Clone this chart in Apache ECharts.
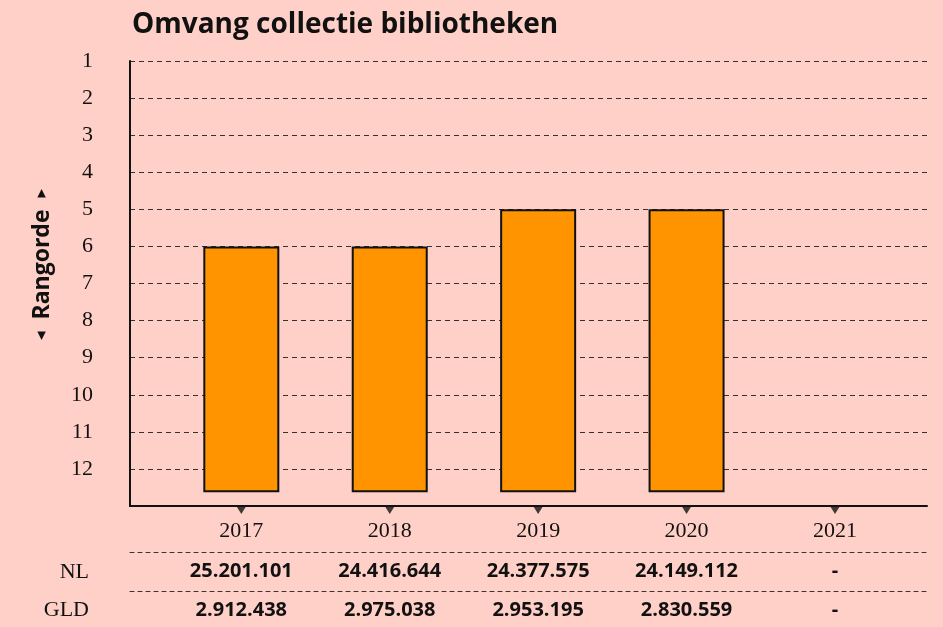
<!DOCTYPE html>
<html>
<head>
<meta charset="utf-8">
<script src="https://cdn.jsdelivr.net/npm/echarts@6/dist/echarts.min.js"></script>
<style>
  html, body { margin: 0; padding: 0; background: #FFD0C7; }
  #chart { width: 943px; height: 627px; }
</style>
</head>
<body>
<div id="chart"></div>
<script>
// Collectie-omvang: rangorde per jaar en aantallen NL / Gelderland
const years = [2017, 2018, 2019, 2020, 2021];
const ranks = [6, 6, 5, 5, null];
const nlValues = ['25.201.101', '24.416.644', '24.377.575', '24.149.112', '-'];
const gldValues = ['2.912.438', '2.975.038', '2.953.195', '2.830.559', '-'];
const rankLabels = [1, 2, 3, 4, 5, 6, 7, 8, 9, 10, 11, 12];

const RANK_MIN = 1, RANK_MAX = 13, BAR_FOOT = 12.6;
const BAR_WIDTH = 74;
const serif = '"Liberation Serif", serif';
const sans = '"Open Sans", sans-serif';

const chart = echarts.init(document.getElementById('chart'));

const tableAxis = (offset, values) => ({
  type: 'value',
  min: 2016.25, max: 2021.62,
  position: 'bottom',
  offset: offset,
  axisLine: { show: true, lineStyle: { color: '#333', width: 1, type: [4, 4] } },
  axisTick: { show: false },
  splitLine: { show: false },
  axisLabel: {
    customValues: years,
    margin: 9,
    formatter: v => values[years.indexOf(Math.round(v))],
    fontFamily: sans, fontWeight: 700, fontSize: 20, color: '#111'
  }
});

chart.setOption({
  backgroundColor: '#FFD0C7',
  animation: false,
  title: {
    text: 'Omvang collectie bibliotheken',
    left: 127, top: 6,
    textStyle: { fontFamily: sans, fontWeight: 700, fontSize: 28, color: '#111' }
  },
  grid: { left: 130, right: 16, top: 61, bottom: 121 },
  xAxis: [
    {
      type: 'value',
      min: 2016.25, max: 2021.62,
      position: 'bottom',
      axisLine: { show: true, onZero: false, lineStyle: { color: '#111', width: 2 } },
      axisTick: { show: false },
      splitLine: { show: false },
      axisLabel: {
        customValues: years,
        margin: 14,
        formatter: v => String(Math.round(v)),
        fontFamily: serif, fontSize: 22, color: '#111'
      }
    },
    tableAxis(46, nlValues),
    tableAxis(85, gldValues)
  ],
  yAxis: {
    type: 'value',
    inverse: true,
    min: RANK_MIN, max: RANK_MAX, interval: 1,
    axisLine: { show: true, lineStyle: { color: '#111', width: 2 } },
    axisTick: { show: false },
    axisLabel: {
      customValues: rankLabels,
      margin: 37,
      fontFamily: serif, fontSize: 22, color: '#111'
    },
    splitLine: { show: true, lineStyle: { color: '#333', width: 1, type: [5, 4] } }
  },
  series: [
    {
      type: 'custom',
      xAxisIndex: 0,
      data: years.map((y, i) => [y, ranks[i]]),
      renderItem: (params, api) => {
        const r = api.value(1);
        if (r == null || isNaN(r)) return null;
        const top = api.coord([api.value(0), r]);
        const foot = api.coord([api.value(0), BAR_FOOT]);
        return {
          type: 'rect',
          shape: { x: top[0] - BAR_WIDTH / 2, y: top[1] + 1, width: BAR_WIDTH, height: foot[1] - top[1] - 1 },
          style: { fill: '#FF9400', stroke: '#111', lineWidth: 2 }
        };
      }
    },
    {
      // kleine driehoekjes onder de jaartallen
      type: 'scatter',
      xAxisIndex: 0,
      clip: false,
      silent: true,
      symbol: 'triangle',
      symbolRotate: 180,
      symbolSize: [10, 8],
      symbolOffset: [0, 4],
      itemStyle: { color: '#111' },
      data: years.map(y => [y, RANK_MAX]),
      z: 5
    }
  ],
  graphic: [
    {
      type: 'text',
      x: 42, y: 264.5,
      rotation: Math.PI / 2,
      style: {
        text: '{t|◂}  Rangorde  {t|▸}',
        rich: { t: { fontSize: 17, fontFamily: '"DejaVu Sans", sans-serif', fill: '#111' } },
        fontFamily: sans, fontWeight: 700, fontSize: 23, fill: '#111',
        align: 'center', verticalAlign: 'middle'
      }
    },
    {
      type: 'text', x: 89, y: 572.5,
      style: { text: 'NL', fontFamily: serif, fontSize: 22, fill: '#111', align: 'right', verticalAlign: 'middle' }
    },
    {
      type: 'text', x: 89, y: 610.5,
      style: { text: 'GLD', fontFamily: serif, fontSize: 22, fill: '#111', align: 'right', verticalAlign: 'middle' }
    }
  ]
});
</script>
</body>
</html>
